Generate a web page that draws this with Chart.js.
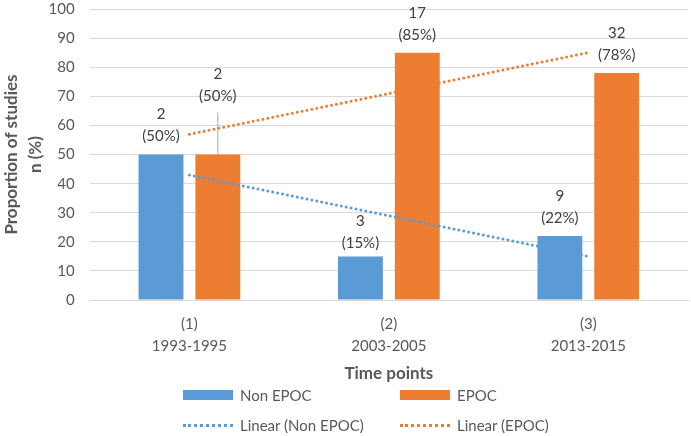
<!DOCTYPE html>
<html>
<head>
<meta charset="utf-8">
<script src="https://cdn.jsdelivr.net/npm/chart.js@4.4.1/dist/chart.umd.min.js"></script>
<style>
  body { margin: 0; background: #fff; font-family: Lato, sans-serif; }
  #wrap { position: relative; width: 691px; height: 436px; }
  #legend {
    position: absolute; left: 183px; top: 384px;
    display: grid; grid-template-columns: 217px auto; row-gap: 8px;
    font-size: 15px; color: #595959;
  }
  .item { display: flex; align-items: center; height: 22px; }
  .box { width: 50px; height: 10px; margin-right: 7px; }
  .dots { width: 50px; height: 0; border-top: 3px dotted; margin-right: 7px; }
</style>
</head>
<body>
<div id="wrap">
  <canvas id="epocChart"></canvas>
  <div id="legend"></div>
</div>
<script>
// 데이터
const categories = [['(1)', '1993-1995'], ['(2)', '2003-2005'], ['(3)', '2013-2015']];
const nonEpocPct = [50, 15, 22];
const epocPct = [50, 85, 78];
const nonEpocCount = [2, 3, 9];
const epocCount = [2, 17, 32];
const nonEpocTrend = [43, 29, 15];
const epocTrend = [57, 71, 85];

const BLUE = '#5B9BD5';
const ORANGE = '#ED7D31';

// 라벨 위치 보정 (px)
const labelLift = [[0, -5, 0], [40, 0, 0]];

// 막대 위 라벨 그리기
const barLabels = {
  id: 'barLabels',
  afterDatasetsDraw(chart) {
    const c = chart.ctx;
    const counts = [nonEpocCount, epocCount];
    c.save();
    c.font = '15px Lato';
    c.fillStyle = '#404040';
    c.textAlign = 'center';
    c.textBaseline = 'middle';
    [0, 1].forEach(di => {
      chart.getDatasetMeta(di + 2).data.forEach((bar, i) => {
        const lift = labelLift[di][i];
        const y2 = bar.y - 18 - lift;
        if (lift > 20) {
          c.strokeStyle = '#a6a6a6';
          c.lineWidth = 1;
          c.beginPath();
          c.moveTo(bar.x, bar.y);
          c.lineTo(bar.x, y2 + 16);
          c.stroke();
        }
        const val = chart.data.datasets[di + 2].data[i];
        c.fillText(String(counts[di][i]), bar.x, y2 - 22);
        c.fillText('(' + val + '%)', bar.x, y2);
      });
    });
    c.restore();
  }
};

const chart = new Chart(document.getElementById('epocChart'), {
  type: 'bar',
  data: {
    labels: categories,
    datasets: [
      { type: 'line', label: 'Linear (Non EPOC)', data: nonEpocTrend, borderColor: BLUE,
        borderWidth: 3, borderDash: [0, 5], borderCapStyle: 'round', pointRadius: 0, order: 0 },
      { type: 'line', label: 'Linear (EPOC)', data: epocTrend, borderColor: ORANGE,
        borderWidth: 3, borderDash: [0, 5], borderCapStyle: 'round', pointRadius: 0, order: 0 },
      { label: 'Non EPOC', data: nonEpocPct, backgroundColor: BLUE, order: 1 },
      { label: 'EPOC', data: epocPct, backgroundColor: ORANGE, order: 1 }
    ]
  },
  options: {
    responsive: true,
    maintainAspectRatio: false,
    animation: false,
    categoryPercentage: 0.57,
    barPercentage: 0.79,
    layout: { padding: { top: 0, right: 3, bottom: 52, left: 0 } },
    plugins: {
      legend: { display: false },
      tooltip: { enabled: false }
    },
    scales: {
      x: {
        grid: { display: false, drawTicks: false },
        border: { color: '#d9d9d9' },
        ticks: { font: { family: 'Lato', size: 15, lineHeight: 1.45 }, color: '#595959', padding: 13 },
        title: { display: true, text: 'Time points', color: '#595959',
          font: { family: 'Lato', size: 17, weight: 'bold' }, padding: { top: -6, bottom: 0 } }
      },
      y: {
        min: 0, max: 100,
        grid: { color: '#d9d9d9', drawTicks: true, tickLength: 15, tickColor: 'rgba(0,0,0,0)' },
        border: { display: false },
        ticks: { stepSize: 10, font: { family: 'Lato', size: 15 }, color: '#595959', padding: 0 },
        title: { display: true, text: ['Proportion of studies', 'n (%)'], color: '#595959',
          font: { family: 'Lato', size: 17, weight: 'bold', lineHeight: 1.4 }, padding: { top: 0, bottom: 1 } }
      }
    }
  },
  plugins: [barLabels]
});

// 범례 (2열)
const legendEl = document.getElementById('legend');
[2, 3, 0, 1].forEach(i => {
  const ds = chart.data.datasets[i];
  const item = document.createElement('div');
  item.className = 'item';
  const sw = document.createElement('span');
  if (ds.type === 'line') {
    sw.className = 'dots';
    sw.style.borderTopColor = ds.borderColor;
  } else {
    sw.className = 'box';
    sw.style.background = ds.backgroundColor;
  }
  const txt = document.createElement('span');
  txt.textContent = ds.label;
  item.appendChild(sw);
  item.appendChild(txt);
  legendEl.appendChild(item);
});
</script>
</body>
</html>
